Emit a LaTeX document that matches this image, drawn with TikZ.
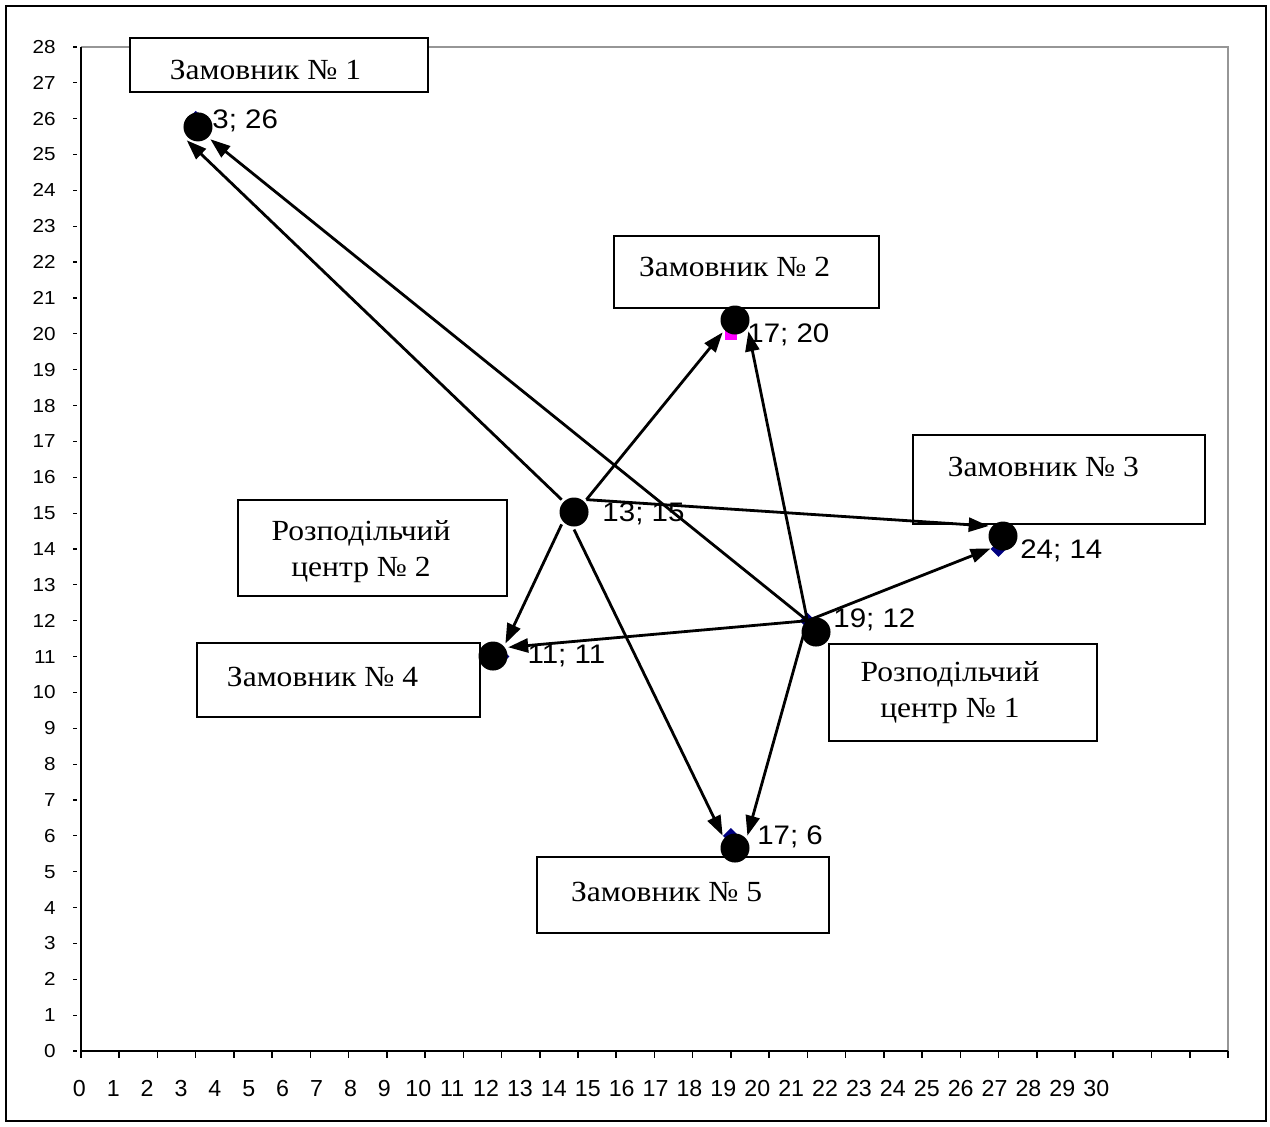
\documentclass[tikz,border=0pt]{standalone}
\usepackage{fontspec}
\setmainfont{Liberation Serif}[FakeStretch=1.08]
\newfontfamily\chartfont{Liberation Sans}[FakeStretch=1.1]
\newfontfamily\axisfont{Liberation Sans}
\usetikzlibrary{arrows.meta,shapes.geometric}
\definecolor{marknavy}{RGB}{0,0,128}
\definecolor{markpink}{RGB}{255,0,255}
\definecolor{plotgray}{RGB}{150,150,150}

\begin{document}
\begin{tikzpicture}[x=19.115pt,y=17.93pt,
		box/.style={draw,fill=white,line width=0.9pt,inner sep=0pt},
		boxtext/.style={font=\fontsize{14.6}{18}\selectfont,align=center},
		dot/.style={circle,fill=black,inner sep=0pt,outer sep=1.5pt,minimum size=14.5pt},
		datamark/.style={diamond,fill=marknavy,inner sep=0pt,minimum size=8pt},
		coordlabel/.style={anchor=west,inner sep=0pt,font=\chartfont\fontsize{13.4}{14}\selectfont},
		route/.style={line width=1.4pt,-{Triangle[length=10pt,width=7pt]}}]
	\useasboundingbox (-2.1188,-2.0915) rectangle (31.101,29.309);
	\draw[line width=1.25pt] (-1.962,-1.952) rectangle (31.0,29.14);
	\draw[plotgray,line width=1pt] (0,28) -- (30,28) -- (30,0);
	\draw[line width=1pt] (0,0) -- (0,28);
	\draw[line width=1.25pt] (0,0) -- (30,0);
	\foreach \i in {0,...,30} {
		\draw[line width=0.8pt] (\i,0) -- ++(0,-3.5pt);
		\node[anchor=base,inner sep=0pt,font=\axisfont\fontsize{11.6}{12}\selectfont] (xlab\i) at ({-0.0445+0.8867*\i},-1.26) {\i};
	}
	\foreach \j in {0,...,28} {
		\draw[line width=0.6pt] (0,\j) ++(-4pt,0) -- ++(2pt,0);
		\node[anchor=east,inner sep=0pt,font=\chartfont\fontsize{9.4}{10}\selectfont] (ylab\j) at ([xshift=-12.5pt]0,\j) {\j};
	}

	\node[box,minimum width=149pt,minimum height=27pt,
		label={[boxtext,xshift=-6.75pt,yshift=-2.5pt]center:Замовник № 1}] (box1) at (5.179,27.50) {};
	\node[box,minimum width=132.5pt,minimum height=36pt,
		label={[boxtext,xshift=-6pt,yshift=2.5pt]center:Замовник № 2}] (box2) at (17.41,21.72) {};
	\node[box,minimum width=146pt,minimum height=44.5pt,
		label={[boxtext,xshift=-7.75pt,yshift=6.25pt]center:Замовник № 3}] (box3) at (25.58,15.94) {};
	\node[box,minimum width=134.5pt,minimum height=48pt,
		label={[boxtext,xshift=-5.75pt,yshift=-2pt]center:{Розподільчий\\центр № 2}}] (boxrc2) at (7.625,14.03) {};
	\node[box,minimum width=141.5pt,minimum height=37pt,
		label={[boxtext,xshift=-8pt,yshift=1.5pt]center:Замовник № 4}] (box4) at (6.736,10.35) {};
	\node[box,minimum width=134pt,minimum height=48.5pt,
		label={[boxtext,xshift=-6.5pt]center:{Розподільчий\\центр № 1}}] (boxrc1) at (23.07,10.00) {};
	\node[box,minimum width=146pt,minimum height=38pt,
		label={[boxtext,xshift=-8.25pt,yshift=1.5pt]center:Замовник № 5}] (box5) at (15.75,4.35) {};

	\node[datamark] (m1) at (3,26) {};
	\node[rectangle,fill=markpink,inner sep=0pt,minimum size=6pt] (m2) at (17,20) {};
	\node[datamark] (m3) at (24,14) {};
	\node[datamark] (mrc2) at (13,15) {};
	\node[datamark] (m4) at (11,11) {};
	\node[datamark] (mrc1) at (19,12) {};
	\node[datamark] (m5) at (17,6) {};

	\node[dot] (z1) at (3.060,25.77) {};
	\node[dot] (z2) at (17.107,20.385) {};
	\node[dot] (z3) at (24.117,14.361) {};
	\node[dot] (rc2) at (12.896,15.031) {};
	\node[dot] (z4) at (10.777,11.015) {};
	\node[dot] (rc1) at (19.226,11.684) {};
	\node[dot] (z5) at (17.107,5.661) {};

	\node[coordlabel] (l1) at (3.427,25.93) {3; 26};
	\node[coordlabel] (l2) at (17.42,19.97) {17; 20};
	\node[coordlabel] (l3) at (24.56,13.94) {24; 14};
	\node[coordlabel] (lrc2) at (13.63,14.97) {13; 15};
	\node[coordlabel] (l4) at (11.67,11.01) {11; 11};
	\node[coordlabel] (lrc1) at (19.67,12.02) {19; 12};
	\node[coordlabel] (l5) at (17.68,5.97) {17; 6};

	\draw[route] (rc2.north west) -- (z1.230);
	\draw[route] (mrc1.center) -- (z1.south east);
	\draw[route] (rc2.north east) -- (z2.south west);
	\draw[route] (mrc1.center) -- (z2.-40);
	\draw[route] (rc2.north east) -- (z3.145);
	\draw[route] (mrc1.center) -- (z3.south west);
	\draw[route] (rc2.south west) -- (z4.45);
	\draw[route] (mrc1.center) -- (z4.30);
	\draw[route] (rc2.south) -- (z5.north west);
	\draw[route] (mrc1.center) -- (z5.north east);
\end{tikzpicture}
\end{document}
